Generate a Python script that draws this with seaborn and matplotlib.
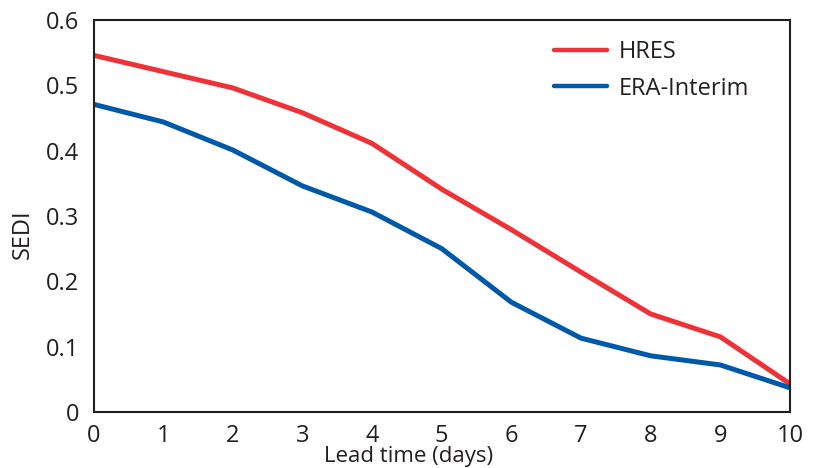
import matplotlib
matplotlib.use("Agg")
import matplotlib.pyplot as plt
import seaborn as sns
import pandas as pd

lead_days = [0, 1, 2, 3, 4, 5, 6, 7, 8, 9, 10]
hres = [0.546, 0.521, 0.496, 0.458, 0.411, 0.341, 0.279, 0.214, 0.150, 0.115, 0.043]
era_interim = [0.471, 0.444, 0.401, 0.346, 0.306, 0.250, 0.168, 0.113, 0.086, 0.072, 0.037]
series_names = ["HRES", "ERA-Interim"]
series_colors = ["#EE3338", "#0059A8"]
y_ticks = [0, 0.1, 0.2, 0.3, 0.4, 0.5, 0.6]
y_tick_labels = ["0", "0.1", "0.2", "0.3", "0.4", "0.5", "0.6"]

df = pd.DataFrame({
    "Lead time (days)": lead_days * 2,
    "SEDI": hres + era_interim,
    "model": [series_names[0]] * len(lead_days) + [series_names[1]] * len(lead_days),
})

sns.set_theme(style="white")
plt.rcParams["font.family"] = ["Open Sans", "DejaVu Sans"]

W, H = 817, 468
ink = "#231F20"
fs = 17

fig = plt.figure(figsize=(W / 100, H / 100), dpi=100)
ax = fig.add_axes([93.5 / W, 1 - 412 / H, (790 - 93.5) / W, (412 - 20) / H])

sns.lineplot(data=df, x="Lead time (days)", y="SEDI", hue="model",
             palette=series_colors, linewidth=3.6, ax=ax)

ax.set_xlim(0, 10)
ax.set_ylim(0, 0.6)
ax.set_xticks(lead_days)
ax.set_yticks(y_ticks)
ax.set_yticklabels(y_tick_labels)

for side in ["left", "bottom", "top", "right"]:
    ax.spines[side].set_color(ink)
    ax.spines[side].set_linewidth(1.5)

ax.tick_params(axis="both", direction="in", length=6, width=1.5, color=ink,
               labelsize=fs, labelcolor=ink)
ax.tick_params(axis="y", pad=10.5)
ax.tick_params(axis="x", pad=8.5)
ax.set_xlabel("Lead time (days)", fontsize=16, color=ink)
ax.xaxis.set_label_coords(0.5, 1 / H, transform=fig.transFigure)
ax.xaxis.label.set_va("bottom")
ax.set_ylabel("SEDI", fontsize=fs, color=ink)
ax.yaxis.set_label_coords(35 / W, 0.5, transform=fig.transFigure)

leg = ax.legend(loc="upper left", frameon=False, fontsize=fs, handlelength=2.25,
                handletextpad=0.5, borderpad=0, borderaxespad=0,
                labelspacing=0.53,
                bbox_to_anchor=(554 / W, 1 - 40 / H), bbox_transform=fig.transFigure)
for line in leg.get_lines():
    line.set_linewidth(3.2)
for t in leg.get_texts():
    t.set_color(ink)

fig.savefig("out.png", dpi=100)
